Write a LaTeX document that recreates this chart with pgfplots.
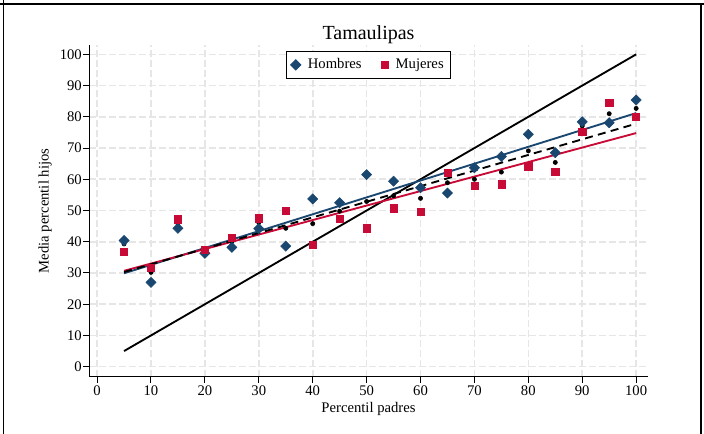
\documentclass[border=0pt]{standalone}
\usepackage{fontspec}
\setmainfont{Liberation Serif}
\usepackage{pgfplots}
\usepackage{pgfplotstable}
\pgfplotsset{compat=1.18}
\definecolor{hom}{RGB}{26,71,111}
\definecolor{muj}{RGB}{200,10,55}
\definecolor{gridc}{RGB}{230,230,230}
\pgfplotstableread{
x h m t
5 40.4 36.7 39.3
10 27.0 31.6 30.2
15 44.3 47.2 45.8
20 36.3 37.4 36.8
25 38.2 41.3 40.0
30 44.2 47.5 46.1
35 38.6 49.8 44.3
40 53.7 39.1 45.8
45 52.5 47.3 49.8
50 61.5 44.3 52.9
55 59.4 50.7 54.7
60 57.3 49.7 53.9
65 55.6 62.2 58.9
70 63.7 57.8 60.0
75 67.3 58.4 62.3
80 74.4 64.2 69.1
85 68.5 62.5 65.4
90 78.4 75.1 77.1
95 78.1 84.6 81.0
100 85.4 80.1 82.7
}\datatab
\begin{document}
\begin{tikzpicture}
\useasboundingbox (0,0) rectangle (528pt,325.5pt);
\draw[line width=1.5pt] (0,322.5pt) -- (528pt,322.5pt);
\draw[line width=1.2pt] (2.6pt,0) -- (2.6pt,325.5pt);
\draw[line width=1.2pt] (525.8pt,0) -- (525.8pt,322.5pt);
\begin{axis}[
  at={(66.75pt,42.75pt)}, anchor=south west,
  scale only axis, width=419.25pt, height=249pt,
  xmin=-1.5, xmax=102.2, ymin=-3.3, ymax=103,
  axis lines*=left,
  axis line style={line width=0.75pt, black},
  xtick={0,10,...,100}, ytick={0,10,...,100},
  tick align=outside, major tick length=4.2pt,
  tick style={line width=0.75pt, black},
  /pgf/number format/assume math mode=true,
  ticklabel style={font=\fontsize{11}{13}\selectfont},
  xticklabel style={inner sep=1pt, yshift=-1pt},
  yticklabel style={inner sep=1pt},
  grid=major,
  major grid style={gridc, line width=1.2pt, dash pattern=on 5pt off 2.5pt},
  title={Tamaulipas},
  title style={font=\fontsize{15}{17}\selectfont, at={(rel axis cs:0.5,1)}, anchor=center, yshift=2pt},
  xlabel={Percentil padres},
  xlabel style={font=\fontsize{11}{13}\selectfont, at={(rel axis cs:0.5,0)}, anchor=center, yshift=-24pt},
  ylabel={Media percentil hijos},
  every axis y label/.style={at={([xshift=-33pt]rel axis cs:0,0.5)}, rotate=90, anchor=center, font=\fontsize{11}{13}\selectfont},
  legend style={at={(rel axis cs:0.5,0.982)}, anchor=north, legend columns=2, draw=black, line width=0.75pt, font=\fontsize{11}{13}\selectfont, inner xsep=3pt, inner ysep=3.5pt,
    /tikz/every odd column/.append style={column sep=3.3pt},
    /tikz/every even column/.append style={column sep=12.8pt}},
  clip=false,
]
\addplot[black, line width=1.4pt, forget plot] coordinates {(5,5) (100,100)};
\addplot[hom, line width=1.4pt, forget plot] coordinates {(5,29.9) (100,81.2)};
\addplot[muj, line width=1.4pt, forget plot] coordinates {(5,30.7) (100,74.8)};
\addplot[black, line width=1.4pt, dash pattern=on 6pt off 4pt, forget plot] coordinates {(5,30.3) (100,77.8)};
\addplot[only marks, mark=*, mark size=1.6pt, black, forget plot] table[x=x,y=t] {\datatab};
\addplot[only marks, mark=square*, mark size=2.7pt, hom, mark options={rotate=45, fill=hom, draw=hom}] table[x=x,y=h] {\datatab};
\addlegendentry{Hombres}
\addplot[only marks, mark=square*, mark size=2.7pt, muj, mark options={fill=muj, draw=muj}] table[x=x,y=m] {\datatab};
\addlegendentry{Mujeres}
\end{axis}
\end{tikzpicture}
\end{document}
